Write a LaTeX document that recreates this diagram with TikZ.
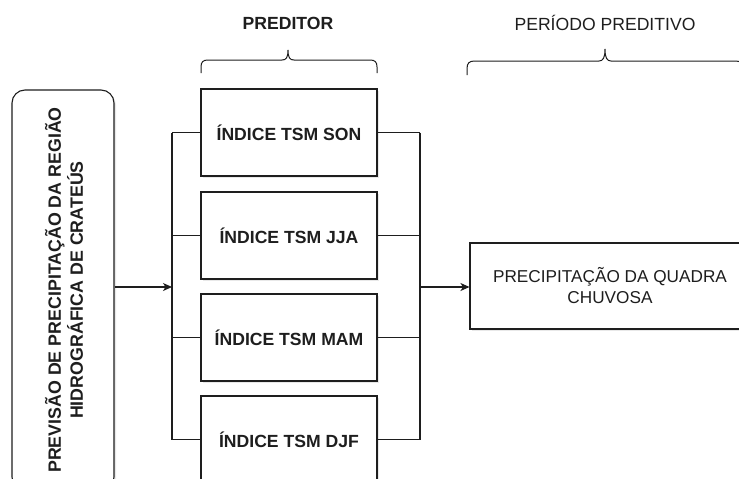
\documentclass[tikz,border=0pt]{standalone}
\usepackage{fontspec}
\setmainfont{Liberation Sans}
\usetikzlibrary{arrows.meta,shadows}
\definecolor{ink}{HTML}{1E1E1E}
\tikzset{
  line/.style={draw=ink, line width=1.1pt},
  box/.style={line, fill=white, inner sep=0pt,
    drop shadow={opacity=0.18, shadow xshift=2pt, shadow yshift=-2pt}},
  idxbox/.style={box, minimum width=176pt, minimum height=87pt,
    font=\fontsize{17.6}{21}\selectfont\bfseries, text=ink},
  arr/.style={line, -{Stealth[length=9pt,width=8pt,inset=2.5pt]}},
  lbl/.style={font=\fontsize{17.2}{21}\selectfont, text=ink},
  brace/.style={line, line width=1pt}
}
\begin{document}
\begin{tikzpicture}[x=1pt,y=-1pt]
\useasboundingbox (0,0) rectangle (739,479);
\clip (0,0) rectangle (739,479);
\fill[white] (0,0) rectangle (739,479);

% headings
\node[lbl, font=\fontsize{17.6}{21}\selectfont\bfseries] (hpred) at (288,23) {PREDITOR};
\node[lbl, font=\fontsize{17.6}{21}\selectfont] (hper) at (605,23) {PERÍODO PREDITIVO};

% curly braces under the headings
\draw[brace] (201,73) -- (201,67) .. controls (201,62) and (203,60) .. (208,60)
  -- (282,60) .. controls (286,60) and (288,58) .. (288,50)
  .. controls (288,58) and (290,60) .. (294,60)
  -- (370,60) .. controls (375,60) and (377,62) .. (377,67) -- (377,73);
\draw[brace] (467,75) -- (467,69) .. controls (467,63) and (469,61) .. (475,61)
  -- (599,61) .. controls (603,61) and (605,58) .. (605,49)
  .. controls (605,58) and (607,61) .. (611,61)
  -- (735,61) .. controls (741,61) and (743,63) .. (743,69) -- (743,75);

% source box
\node[box, rounded corners=13pt, minimum width=102pt, minimum height=400pt] (src) at (63,290) {};
\node[lbl, font=\fontsize{17.8}{22}\selectfont\bfseries, rotate=90, align=center] (srctxt) at (64,290)
  {PREVISÃO DE PRECIPITAÇÃO DA REGIÃO\\HIDROGRÁFICA DE CRATEÚS};

% predictor boxes
\node[idxbox] (son) at (289,132.5) {ÍNDICE TSM SON};
\node[idxbox] (jja) at (289,235.5) {ÍNDICE TSM JJA};
\node[idxbox] (mam) at (289,337.5) {ÍNDICE TSM MAM};
\node[idxbox] (djf) at (289,439.5) {ÍNDICE TSM DJF};

% result box
\node[box, minimum width=280pt, minimum height=86pt, lbl, align=center] (res) at (610,286)
  {PRECIPITAÇÃO DA QUADRA\\CHUVOSA};

% bus junctions
\coordinate (inL) at (172,287);
\coordinate (outR) at (420,287);

% input bus
\draw[arr] (src.east |- inL) -- (inL);
\draw[line] (son.west -| inL) -- (djf.west -| inL);
\foreach \b in {son,jja,mam,djf} \draw[line] (\b.west) -- (\b.west -| inL);

% output bus
\draw[line] (son.east -| outR) -- (djf.east -| outR);
\foreach \b in {son,jja,mam,djf} \draw[line] (\b.east) -- (\b.east -| outR);
\draw[arr] (outR) -- (outR -| res.west);
\end{tikzpicture}
\end{document}
